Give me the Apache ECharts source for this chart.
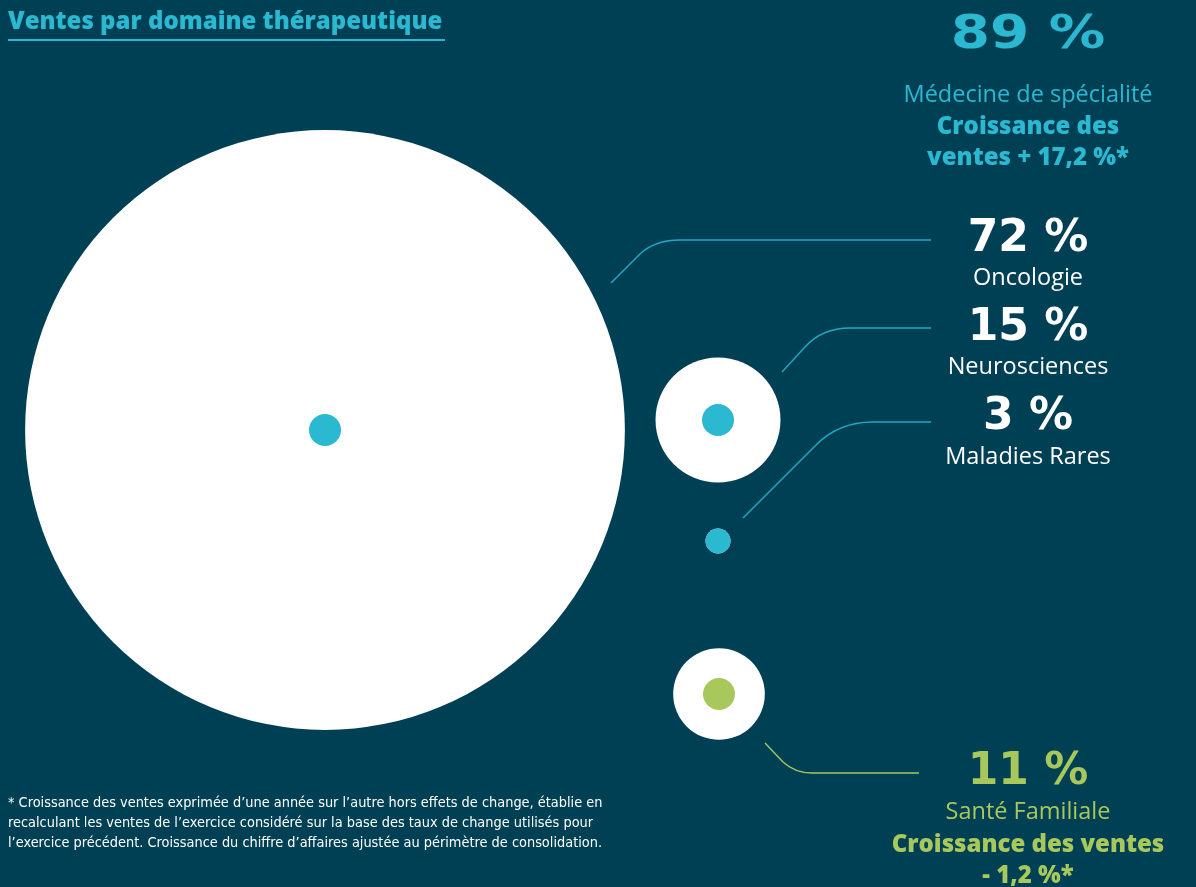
<!DOCTYPE html>
<html><head><meta charset="utf-8">
<script src="https://cdn.jsdelivr.net/npm/echarts@6/dist/echarts.min.js"></script>
<style>html,body{margin:0;padding:0;background:#004055;}#c{width:1196px;height:887px;}</style>
</head><body><div id="c"></div>
<script>
// ---- data ----
const categories = ['Oncologie', 'Neurosciences', 'Maladies Rares', 'Santé Familiale'];
const shares = [72, 15, 3, 11];
const groups = ['Médecine de spécialité', 'Médecine de spécialité', 'Médecine de spécialité', 'Santé Familiale'];
const specialtyShare = 89;
const specialtyGrowth = '+ 17,2 %*';
const familyGrowth = '- 1,2 %*';

// ---- layout (positions in the hidden axes' units) ----
const bubblePos = [[325, 430], [718, 420], [718, 541], [719, 694]];
const pxPerPoint = 8.33;   // bubble diameter per share point
const dotMax = 32;

const BG = '#004055', CYAN = '#2bb8d1', LINE_CYAN = '#25a8c3', GREEN = '#a9c85c', WHITE = '#ffffff';
const colorOf = g => g === 'Santé Familiale' ? GREEN : CYAN;

const outerData = categories.map((c, i) => ({ name: c, value: [bubblePos[i][0], bubblePos[i][1], shares[i]] }));
const innerData = categories.map((c, i) => ({ name: c, value: [bubblePos[i][0], bubblePos[i][1], shares[i]], itemStyle: { color: colorOf(groups[i]) } }));

const FONT = '"Open Sans", "Noto Sans", sans-serif';
const NUMFONT = '"DejaVu Sans", sans-serif';
const NOTEFONT = '"Liberation Sans Narrow", "DejaVu Sans Condensed", sans-serif';
function txt(text, x, y, size, weight, fill, align, family, sx) {
  const o = { type: 'text', silent: true, style: { text, x, y, fill, font: `${weight} ${size}px ${family || FONT}`, textAlign: align || 'center', textVerticalAlign: 'middle' } };
  if (sx) { o.scaleX = sx; o.originX = x; o.originY = y; }
  return o;
}
// leader: straight diagonal, quadratic rounded corner, horizontal run
function leader(p0, p1, c, p2, p3, stroke) {
  const st = { stroke, lineWidth: 1.4, fill: null };
  return [
    { type: 'line', silent: true, shape: { x1: p0[0], y1: p0[1], x2: p1[0], y2: p1[1] }, style: st },
    { type: 'bezierCurve', silent: true, shape: { x1: p1[0], y1: p1[1], cpx1: c[0], cpy1: c[1], x2: p2[0], y2: p2[1] }, style: st },
    { type: 'line', silent: true, shape: { x1: p2[0], y1: p2[1], x2: p3[0], y2: p3[1] }, style: st }
  ];
}
const cx = 1028;
const graphics = [
  txt('Ventes par domaine thérapeutique', 8, 22, 24, 800, CYAN, 'left'),
  { type: 'rect', silent: true, shape: { x: 8, y: 39, width: 437, height: 2 }, style: { fill: CYAN } },
  txt(specialtyShare + ' %', cx, 36, 47, 'bold', CYAN, 'center', NUMFONT, 1.2),
  txt('Médecine de spécialité', cx, 95, 23.5, 'normal', CYAN),
  txt('Croissance des', cx, 127, 24, 800, CYAN),
  txt('ventes ' + specialtyGrowth, cx, 158, 24, 800, CYAN),
  txt(shares[0] + ' %', cx, 240, 44, 'bold', WHITE, 'center', NUMFONT),
  txt(categories[0], cx, 278, 23.5, 'normal', WHITE),
  txt(shares[1] + ' %', cx, 329, 44, 'bold', WHITE, 'center', NUMFONT),
  txt(categories[1], cx, 367, 23.5, 'normal', WHITE),
  txt(shares[2] + ' %', cx, 418, 44, 'bold', WHITE, 'center', NUMFONT),
  txt(categories[2], cx, 457, 23.5, 'normal', WHITE),
  txt(shares[3] + ' %', cx, 773, 44, 'bold', GREEN, 'center', NUMFONT),
  txt(categories[3], cx, 812, 23.5, 'normal', GREEN),
  txt('Croissance des ventes', cx, 845, 24, 800, GREEN),
  txt(familyGrowth, cx, 876, 24, 800, GREEN),
  ...leader([611, 283], [641, 253], [656, 240], [680, 240], [931, 240], LINE_CYAN),
  ...leader([782, 372], [805, 347], [822, 328], [850, 328], [931, 328], LINE_CYAN),
  ...leader([743, 518], [815, 446], [838, 422], [873, 422], [931, 422], LINE_CYAN),
  ...leader([765, 743], [783, 762], [795, 773], [812, 773], [919, 773], GREEN),
  txt('* Croissance des ventes exprimée d’une année sur l’autre hors effets de change, établie en', 8, 803, 14.4, 'normal', WHITE, 'left', NOTEFONT),
  txt('recalculant les ventes de l’exercice considéré sur la base des taux de change utilisés pour', 8, 823, 14.4, 'normal', WHITE, 'left', NOTEFONT),
  txt('l’exercice précédent. Croissance du chiffre d’affaires ajustée au périmètre de consolidation.', 8, 843, 14.4, 'normal', WHITE, 'left', NOTEFONT)
];

const chart = echarts.init(document.getElementById('c'));
chart.setOption({
  backgroundColor: BG,
  animation: false,
  grid: { left: 0, right: 0, top: 0, bottom: 0 },
  xAxis: { type: 'value', min: 0, max: 1196, show: false },
  yAxis: { type: 'value', min: 0, max: 887, inverse: true, show: false },
  series: [
    { type: 'scatter', data: outerData, symbolSize: v => v[2] * pxPerPoint, itemStyle: { color: WHITE, opacity: 1 }, z: 2, silent: true },
    { type: 'scatter', data: innerData, symbolSize: v => Math.min(dotMax, v[2] * pxPerPoint), itemStyle: { opacity: 1 }, z: 3, silent: true }
  ],
  graphic: graphics
});
</script></body></html>
